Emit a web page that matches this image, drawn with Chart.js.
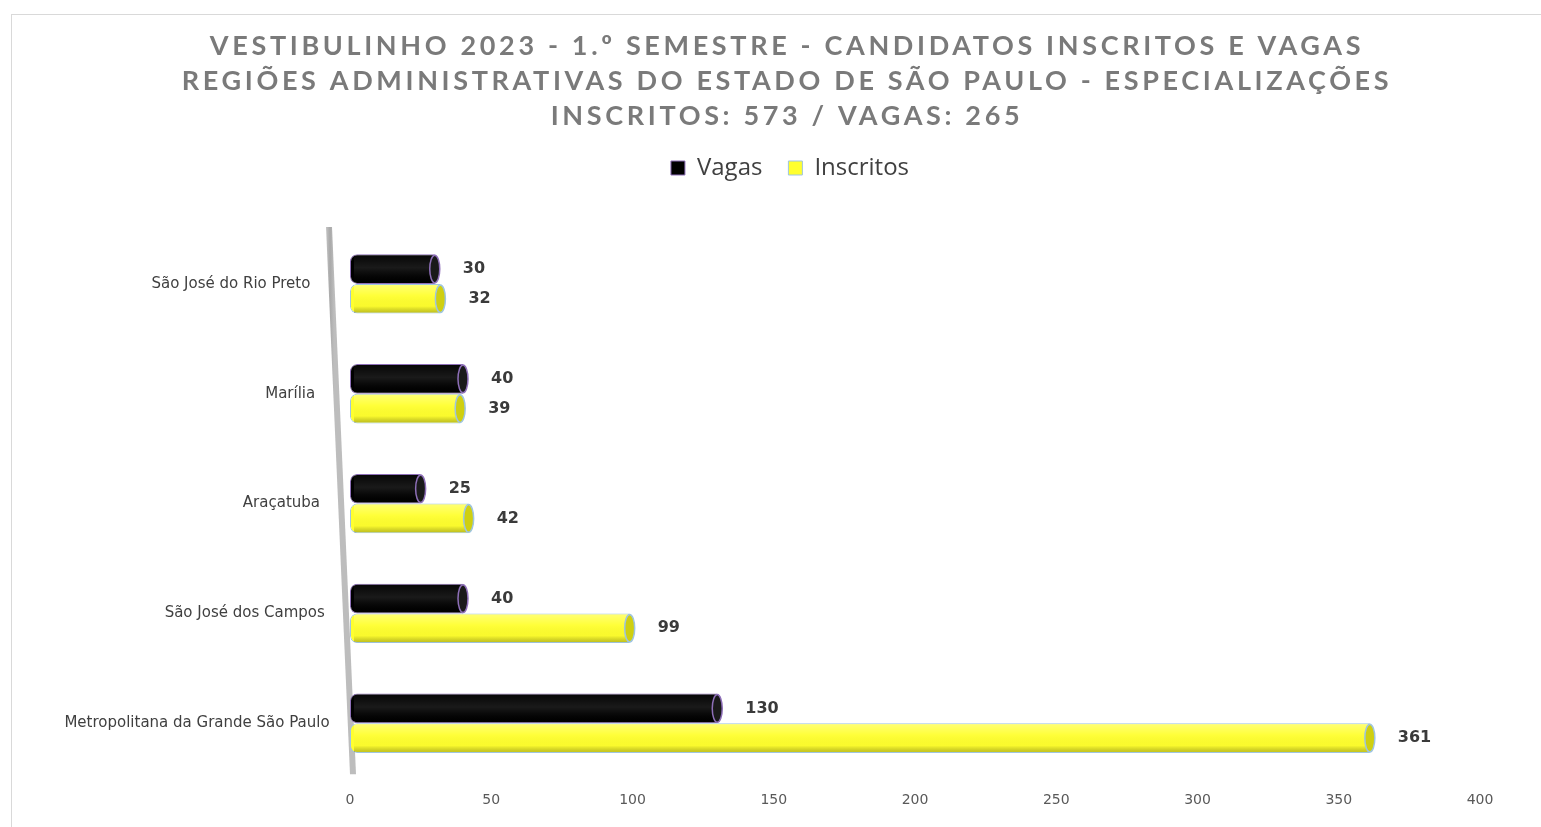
<!DOCTYPE html>
<html>
<head>
<meta charset="utf-8">
<script src="https://cdn.jsdelivr.net/npm/chart.js@4.4.0/dist/chart.umd.min.js"></script>
<style>
  html, body { margin: 0; padding: 0; background: #fff; }
  #frame { position: absolute; left: 11px; top: 14px; width: 1540px; height: 830px; border: 1px solid #d9d9d9; }
  #wrap { position: absolute; left: 0; top: 0; width: 1541px; height: 827px; }
</style>
</head>
<body>
<div id="frame"></div>
<div id="wrap"><canvas id="myChart"></canvas></div>
<script>
///// BARRAS HORIZONTAIS - VESTIBULINHO /////

// Dados
const titleLines = [
    "VESTIBULINHO 2023 - 1.º SEMESTRE - CANDIDATOS INSCRITOS E VAGAS",
    "REGIÕES ADMINISTRATIVAS DO ESTADO DE SÃO PAULO - ESPECIALIZAÇÕES",
    "INSCRITOS: 573 / VAGAS: 265"
];
const regioes = [
    "São José do Rio Preto",
    "Marília",
    "Araçatuba",
    "São José dos Campos",
    "Metropolitana da Grande São Paulo"
];
const vagas = [30, 40, 25, 40, 130];
const inscritos = [32, 39, 42, 99, 361];
const xMin = 0, xMax = 400, xStep = 50;

// titulo com espaçamento entre letras (o titulo do Chart.js nao tem letterSpacing)
const spacedTitle = {
    id: 'spacedTitle',
    beforeDraw(chart) {
        const ctx = chart.ctx;
        ctx.save();
        ctx.font = 'bold 27px Lato';
        ctx.fillStyle = '#7a7a7a';
        ctx.textAlign = 'center';
        ctx.textBaseline = 'middle';
        ctx.letterSpacing = '3.65px';
        titleLines.forEach((t, i) => ctx.fillText(t, 787, 46 + i * 35));
        ctx.restore();
    }
};

// parede inclinada: x da borda esquerda numa altura y
function wallX(a, y) {
    return a.left - 24 + 24 * (y - a.top) / (a.bottom - a.top);
}

// "parede" cinza inclinada atras das barras
const wall = {
    id: 'wall',
    beforeDatasetsDraw(chart) {
        const { ctx, chartArea: a } = chart;
        ctx.save();
        const g = ctx.createLinearGradient(a.left - 24, 0, a.left - 16, 0);
        g.addColorStop(0, '#c4c4c4');
        g.addColorStop(0.5, '#a9a9a9');
        g.addColorStop(1, '#bdbdbd');
        ctx.fillStyle = g;
        ctx.beginPath();
        ctx.moveTo(a.left - 24, a.top - 2);
        ctx.lineTo(a.left - 18, a.top - 2);
        ctx.lineTo(a.left + 6, a.bottom - 4);
        ctx.lineTo(a.left, a.bottom - 4);
        ctx.closePath();
        ctx.fill();
        ctx.restore();
    }
};

// rotulos das regioes, acompanhando a parede
const regionLabels = {
    id: 'regionLabels',
    afterDraw(chart) {
        const { ctx, chartArea: a } = chart;
        const yScale = chart.scales.y;
        ctx.save();
        ctx.font = '15px "DejaVu Sans"';
        ctx.fillStyle = '#404040';
        ctx.textAlign = 'right';
        ctx.textBaseline = 'middle';
        chart.data.labels.forEach((lab, i) => {
            const y = yScale.getPixelForTick(i);
            ctx.fillText(lab, wallX(a, y) - 18, y);
        });
        ctx.restore();
    }
};

// sombreado de cilindro + tampa na ponta
const capColors = ['#1a1a1a', '#cfcf10'];
const cylinders = {
    id: 'cylinders',
    afterDatasetsDraw(chart) {
        const ctx = chart.ctx;
        chart.data.datasets.forEach((ds, di) => {
            chart.getDatasetMeta(di).data.forEach(el => {
                const { x, y, base, height } = el.getProps(['x', 'y', 'base', 'height'], true);
                const top = y - height / 2;
                const g = ctx.createLinearGradient(0, top, 0, top + height);
                if (di === 0) {
                    g.addColorStop(0, 'rgba(255,255,255,0.02)');
                    g.addColorStop(0.45, 'rgba(255,255,255,0.10)');
                    g.addColorStop(0.6, 'rgba(255,255,255,0.06)');
                    g.addColorStop(1, 'rgba(0,0,0,0)');
                } else {
                    g.addColorStop(0, 'rgba(255,255,255,0.35)');
                    g.addColorStop(0.4, 'rgba(255,255,255,0.05)');
                    g.addColorStop(0.75, 'rgba(0,0,0,0.02)');
                    g.addColorStop(1, 'rgba(60,60,0,0.35)');
                }
                ctx.save();
                ctx.fillStyle = g;
                ctx.fillRect(base + 4, top + 1, x - base - 4, height - 2);
                ctx.beginPath();
                ctx.ellipse(x, y, 5, height / 2 - 1, 0, 0, Math.PI * 2);
                ctx.fillStyle = capColors[di];
                ctx.fill();
                ctx.lineWidth = 1.5;
                ctx.strokeStyle = ds.borderColor;
                ctx.stroke();
                ctx.restore();
            });
        });
    }
};

// rotulos de valor
const valueLabels = {
    id: 'valueLabels',
    afterDatasetsDraw(chart) {
        const ctx = chart.ctx;
        ctx.save();
        ctx.font = 'bold 16px "DejaVu Sans"';
        ctx.fillStyle = '#3a3a3a';
        ctx.textAlign = 'left';
        ctx.textBaseline = 'middle';
        chart.data.datasets.forEach((ds, di) => {
            chart.getDatasetMeta(di).data.forEach((el, i) => {
                ctx.fillText(ds.data[i], el.x + 28, el.y);
            });
        });
        ctx.restore();
    }
};

// espaço extra abaixo da legenda e legenda deslocada para a direita
const legendMargin = {
    id: 'legendMargin',
    beforeInit(chart) {
        const fit = chart.legend.fit;
        chart.legend.fit = function () {
            fit.bind(chart.legend)();
            this.height += 39;
        };
    },
    afterLayout(chart) {
        chart.legend.left += 50;
        chart.legend.right += 50;
    }
};

const barRadius = { topLeft: 7, bottomLeft: 7, topRight: 0, bottomRight: 0 };

const myChart = new Chart('myChart', {
    type: 'bar',
    data: {
        labels: regioes,
        datasets: [{
            label: 'Vagas',
            data: vagas,
            backgroundColor: '#000000',
            borderColor: '#8e6fb8',
            borderWidth: 1,
            borderSkipped: false,
            borderRadius: barRadius,
            categoryPercentage: 0.54,
            barPercentage: 1
        },
        {
            label: 'Inscritos',
            data: inscritos,
            backgroundColor: '#ffff2e',
            borderColor: '#9fc5e0',
            borderWidth: 1,
            borderSkipped: false,
            borderRadius: barRadius,
            categoryPercentage: 0.54,
            barPercentage: 1
        }]
    },
    options: {
        indexAxis: 'y',
        responsive: true,
        maintainAspectRatio: false,
        animation: false,
        layout: {
            padding: { top: 130, right: 61, bottom: 4, left: 0 }
        },
        plugins: {
            title: { display: false },
            tooltip: { enabled: false },
            legend: {
                position: 'top',
                labels: {
                    font: { family: 'Open Sans', size: 24 },
                    color: '#404040',
                    boxWidth: 14,
                    boxHeight: 14,
                    padding: 26
                }
            }
        },
        scales: {
            x: {
                min: xMin,
                max: xMax,
                grid: { display: false, drawTicks: false },
                border: { display: false },
                ticks: {
                    stepSize: xStep,
                    padding: 14,
                    color: '#595959',
                    font: { family: 'DejaVu Sans', size: 14 }
                }
            },
            y: {
                grid: { display: false, drawTicks: false },
                border: { display: false },
                afterFit(scale) { scale.width = 350; },
                ticks: { display: false }
            }
        }
    },
    plugins: [spacedTitle, wall, cylinders, valueLabels, regionLabels, legendMargin]
});

console.log(myChart.chartArea);
</script>
</body>
</html>
